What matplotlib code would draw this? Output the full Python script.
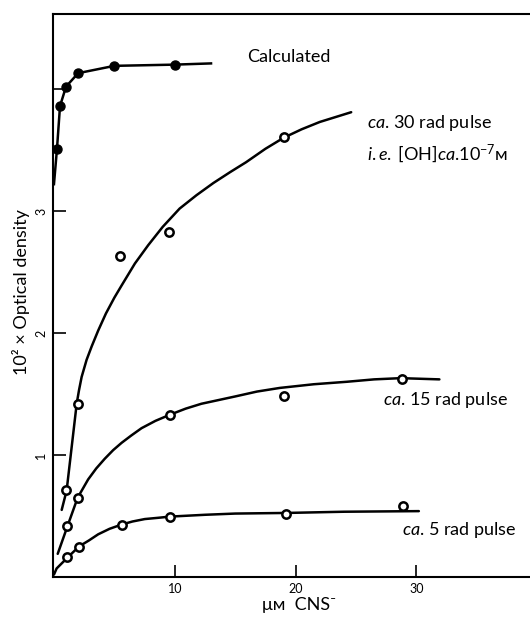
import matplotlib
matplotlib.use('Agg')
import matplotlib.pyplot as plt

plt.rcParams['font.family'] = ['Lato', 'DejaVu Sans']
plt.rcParams['mathtext.fontset'] = 'custom'
plt.rcParams['mathtext.rm'] = 'Lato'
plt.rcParams['mathtext.it'] = 'Lato:italic'

# Calculated (filled circles)
calc_x = [0.25, 0.5, 1, 2, 5, 10]
calc_y = [3.51, 3.86, 4.02, 4.13, 4.19, 4.20]
calc_line_x = [0, 0.25, 0.5, 1, 2, 5, 10, 13]
calc_line_y = [3.22, 3.51, 3.86, 4.02, 4.13, 4.19, 4.20, 4.21]

# ca. 30 rad pulse
r30_x = [1, 2, 5.5, 9.5, 19]
r30_y = [0.71, 1.42, 2.63, 2.83, 3.61]
r30_cx = [0.64, 1.05, 1.88, 2.07, 2.29, 2.70, 3.12, 3.66, 4.3, 5.0, 5.6, 6.7,
          7.8, 9.0, 10.4, 11.8, 13.2, 14.6, 15.9, 17.5, 19.0, 20.5, 22.0, 23.3, 24.6]
r30_cy = [0.55, 0.71, 1.42, 1.53, 1.64, 1.78, 1.89, 2.02, 2.16, 2.29, 2.39, 2.57,
          2.72, 2.87, 3.02, 3.13, 3.23, 3.32, 3.40, 3.51, 3.60, 3.67, 3.73, 3.77, 3.81]

# ca. 15 rad pulse
r15_x = [1.1, 2, 9.6, 19, 28.8]
r15_y = [0.42, 0.65, 1.33, 1.48, 1.62]
r15_cx = [0.31, 1.13, 1.96, 2.83, 3.5, 4.21, 4.9, 5.6, 6.4, 7.25, 8.4, 9.59, 10.9,
          12.2, 13.6, 15.0, 16.8, 18.7, 21.5, 24.2, 26.5, 28.7, 31.9]
r15_cy = [0.19, 0.42, 0.65, 0.80, 0.89, 0.97, 1.04, 1.10, 1.16, 1.22, 1.28, 1.33, 1.38,
          1.42, 1.45, 1.48, 1.52, 1.55, 1.58, 1.60, 1.62, 1.63, 1.62]

# ca. 5 rad pulse
r5_x = [1.1, 2.1, 5.6, 9.6, 19.2, 28.9]
r5_y = [0.16, 0.25, 0.43, 0.49, 0.52, 0.58]
r5_cx = [0.0, 0.22, 1.13, 2.07, 2.9, 3.66, 4.6, 5.6, 6.5, 7.52, 8.6, 9.59, 12.5, 15.0,
         19.2, 24.0, 30.2]
r5_cy = [0.02, 0.07, 0.16, 0.25, 0.30, 0.35, 0.395, 0.43, 0.455, 0.475, 0.485, 0.495,
         0.51, 0.52, 0.525, 0.535, 0.54]

fig = plt.figure(figsize=(5.3, 6.21), dpi=100)
ax = fig.add_axes([53/530, 1 - 577/621, 1 - 53/530, (577 - 14)/621])

lw = 1.8
ax.plot(calc_line_x, calc_line_y, color='black', lw=lw)
ax.plot(calc_x, calc_y, 'o', color='black', ms=6.5)

for cx, cy, px, py in [(r30_cx, r30_cy, r30_x, r30_y),
                       (r15_cx, r15_cy, r15_x, r15_y),
                       (r5_cx, r5_cy, r5_x, r5_y)]:
    ax.plot(cx, cy, color='black', lw=lw, solid_capstyle='round', solid_joinstyle='round')
    ax.plot(px, py, 'o', mfc='white', mec='black', mew=1.8, ms=6)

ax.set_xlim(-0.08, 39.4)
ax.set_ylim(0, 4.615)
ax.spines['right'].set_visible(False)
for s in ['left', 'bottom', 'top']:
    ax.spines[s].set_linewidth(1.5)

ax.set_xticks([10, 20, 30])
ax.set_xticklabels(['10', '20', '30'], fontsize=9)
ax.set_yticks([1, 2, 3, 4])
ax.set_yticklabels(['1', '2', '3', ''], fontsize=9, rotation=90, va='center')
ax.tick_params(direction='in', length=9, width=1.2, pad=4)

# annotations
fs = 13
ax.text(15.95, 4.26, 'Calculated', fontsize=fs, va='center')
ax.text(25.9, 3.72, r'$\mathit{ca}$. 30 rad pulse', fontsize=fs, va='center')
ax.text(25.9, 3.47, r'$\mathit{i.e.}\;$[OH]$\mathit{ca}$.10$^{-7}$ᴍ', fontsize=fs, va='center')
ax.text(27.2, 1.45, r'$\mathit{ca}$. 15 rad pulse', fontsize=fs, va='center')
ax.text(28.8, 0.385, r'$\mathit{ca}$. 5 rad pulse', fontsize=fs, va='center')

fig.text(299/530, 1 - 605/621, 'μᴍ  CNS⁻', fontsize=fs, ha='center', va='center')
fig.text(21/530, 1 - 292/621, '10² × Optical density', fontsize=fs,
         rotation=90, ha='center', va='center')

fig.savefig('out.png', dpi=100)
